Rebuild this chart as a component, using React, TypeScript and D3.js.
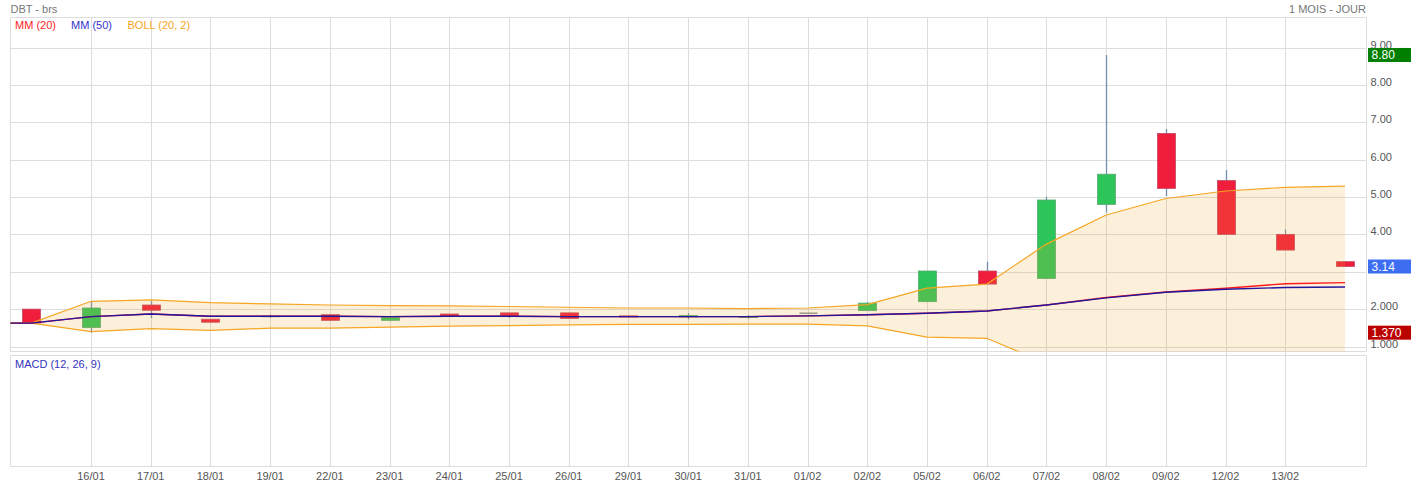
import React from "react";
import * as d3 from "d3";

// ---- data ----
const dates = ["15/01","16/01","17/01","18/01","19/01","22/01","23/01","24/01","25/01","26/01","29/01","30/01","31/01","01/02","02/02","05/02","06/02","07/02","08/02","09/02","12/02","13/02","14/02"];
const opens = [2.00,1.51,2.11,1.73,1.80,1.85,1.70,1.87,1.90,1.90,1.82,1.79,1.775,1.89,1.96,2.20,3.02,2.82,4.80,6.70,5.44,4.00,3.27];
const highs = [2.00,2.20,2.22,1.73,1.85,1.85,1.78,1.87,1.90,1.90,1.82,1.89,1.84,1.90,2.19,3.02,3.27,5.01,8.80,6.82,5.72,4.13,3.27];
const lows = [1.60,1.37,1.76,1.65,1.77,1.69,1.70,1.80,1.76,1.75,1.79,1.73,1.74,1.87,1.96,2.20,2.67,2.82,4.58,5.03,4.00,3.58,3.14];
const closes = [1.625,2.03,1.97,1.65,1.80,1.70,1.775,1.80,1.82,1.75,1.79,1.83,1.80,1.89,2.16,3.02,2.67,4.92,5.61,5.23,4.00,3.58,3.14];

// indicator series start one session before the first visible candle (index -1)
const bollUpper = [1.625,1.625,2.21,2.25,2.175,2.14,2.11,2.095,2.087,2.07,2.05,2.03,2.03,2.015,2.03,2.12,2.56,2.67,3.74,4.52,4.96,5.16,5.26,5.29];
const bollLower = [1.625,1.625,1.40,1.48,1.43,1.49,1.49,1.52,1.545,1.56,1.58,1.59,1.59,1.60,1.60,1.55,1.25,1.22,0.55,0.10,-0.05,-0.10,-0.20,-0.25];
const mm20 = [1.625,1.625,1.80,1.87,1.81,1.81,1.81,1.80,1.81,1.81,1.80,1.80,1.80,1.80,1.82,1.85,1.89,1.95,2.11,2.31,2.46,2.56,2.68,2.71];
const mm50 = [1.625,1.625,1.80,1.87,1.81,1.81,1.81,1.80,1.81,1.81,1.80,1.80,1.80,1.80,1.82,1.85,1.89,1.95,2.11,2.30,2.45,2.53,2.58,2.59];

const yTicks = [1,2,3,4,5,6,7,8,9];
const yTickLabels = ["1.000","2.000","3.00","4.00","5.00","6.00","7.00","8.00","9.00"];
const xTickLabels = ["16/01","17/01","18/01","19/01","22/01","23/01","24/01","25/01","26/01","29/01","30/01","31/01","01/02","02/02","05/02","06/02","07/02","08/02","09/02","12/02","13/02"];

const FONT = "'Liberation Sans', Arial, sans-serif";

export default function App() {
  const W = 1411, H = 486;
  const left = 10.5, right = 1366.5;
  const mainTop = 17.5, mainBottom = 351.5;
  const macdTop = 355.5, macdBottom = 466.5;

  const x = d3.scaleLinear().domain([0, dates.length - 1]).range([31.3, 1345]);
  const y = d3.scaleLinear().domain([1, 9]).range([346.5, 47.5]);
  const px = (v: number) => Math.round(v) + 0.5;
  const bodyW = 18;

  const ind = (arr: number[]) => arr.map((v, k) => [x(k - 1), y(v)] as [number, number]);
  const line = d3.line<[number, number]>();
  const area = d3
    .area<number>()
    .x((_, k) => x(k - 1))
    .y0((_, k) => y(bollLower[k]))
    .y1((_, k) => y(bollUpper[k]));

  const lastClose = closes[closes.length - 1];
  const maxHigh = d3.max(highs) as number;
  const minLow = d3.min(lows) as number;

  const badges = [
    { v: maxHigh, text: maxHigh.toFixed(2), fill: "#007f00" },
    { v: lastClose, text: lastClose.toFixed(2), fill: "#3d6ef2" },
    { v: minLow, text: minLow.toFixed(3), fill: "#bb0000" },
  ];
  // tick labels that sit under a badge are hidden (as in the reference)
  const hidden = (t: number) => badges.some((b) => Math.abs(y(b.v) - y(t)) < 6.5);

  return (
    <div style={{ position: "absolute", left: 0, top: 0 }}>
      <svg width={W} height={H} style={{ display: "block", fontFamily: FONT }}>
        <defs>
          <clipPath id="mainClip">
            <rect x={left} y={mainTop} width={right - left} height={mainBottom - mainTop} />
          </clipPath>
        </defs>
        <rect x={0} y={0} width={W} height={H} fill="#fff" />

        {/* horizontal grid */}
        {yTicks.map((t) => (
          <line key={"hg" + t} x1={left} x2={right} y1={px(y(t))} y2={px(y(t))} stroke="#dddddd" strokeWidth={1} />
        ))}
        {/* vertical grid */}
        {xTickLabels.map((lab) => {
          const i = dates.indexOf(lab);
          return (
            <line key={"vg" + lab} x1={px(x(i))} x2={px(x(i))} y1={mainTop} y2={macdBottom} stroke="#dddddd" strokeWidth={1} />
          );
        })}
        {/* panel borders */}
        <line x1={left} x2={right} y1={mainTop} y2={mainTop} stroke="#dddddd" />
        <line x1={left} x2={right} y1={mainBottom} y2={mainBottom} stroke="#dddddd" />
        <line x1={left} x2={right} y1={macdTop} y2={macdTop} stroke="#dddddd" />
        <line x1={left} x2={right} y1={macdBottom} y2={macdBottom} stroke="#dddddd" />
        <line x1={left} x2={left} y1={mainTop} y2={mainBottom} stroke="#dddddd" />
        <line x1={left} x2={left} y1={macdTop} y2={macdBottom} stroke="#dddddd" />
        <line x1={right} x2={right} y1={mainTop} y2={mainBottom} stroke="#dddddd" />
        <line x1={right} x2={right} y1={macdTop} y2={macdBottom} stroke="#dddddd" />

        <g clipPath="url(#mainClip)">
          {/* candles */}
          {dates.map((d, i) => {
            const cx = px(x(i));
            const o = opens[i], c = closes[i];
            const up = c >= o;
            const top = y(Math.max(o, c));
            const bot = y(Math.min(o, c));
            const doji = Math.abs(o - c) < 1e-9;
            return (
              <g key={"c" + d}>
                <line x1={cx} x2={cx} y1={y(highs[i])} y2={y(lows[i])} stroke="#7290ae" strokeWidth={1.3} />
                {doji ? (
                  <line x1={cx - bodyW / 2} x2={cx + bodyW / 2} y1={top} y2={top} stroke="#8a9a9a" strokeWidth={1.5} />
                ) : (
                  <rect
                    x={cx - bodyW / 2}
                    y={top}
                    width={bodyW}
                    height={Math.max(1, bot - top)}
                    fill={up ? "#2dc55a" : "#f01e3c"}
                    stroke={up ? "#5aa870" : "#c04a64"}
                    strokeWidth={0.8}
                  />
                )}
              </g>
            );
          })}
          {/* bollinger fill */}
          <path d={area(bollUpper) || ""} fill="#f5a623" fillOpacity={0.17} />
          <path d={line(ind(bollUpper)) || ""} fill="none" stroke="#f5a623" strokeWidth={1.2} />
          <path d={line(ind(bollLower)) || ""} fill="none" stroke="#f5a623" strokeWidth={1.2} />
          {/* moving averages */}
          <path d={line(ind(mm20)) || ""} fill="none" stroke="#ff1a1a" strokeWidth={1.4} />
          <path d={line(ind(mm50)) || ""} fill="none" stroke="#23169e" strokeWidth={1.4} />
        </g>

        {/* y axis labels */}
        {yTicks.map((t, k) =>
          hidden(t) ? null : (
            <text key={"yl" + t} x={1370.5} y={px(y(t)) + 0.5} fontSize={11} fill="#555">
              {yTickLabels[k]}
            </text>
          )
        )}
        {/* value badges */}
        {badges.map((b) => (
          <g key={"b" + b.text}>
            <rect x={1368} y={y(b.v) - 7} width={W - 1368} height={14} fill={b.fill} />
            <text x={1371.5} y={y(b.v) + 4.2} fontSize={12} fill="#fff">
              {b.text}
            </text>
          </g>
        ))}

        {/* x axis labels */}
        {xTickLabels.map((lab) => (
          <text key={"xl" + lab} x={x(dates.indexOf(lab))} y={480} fontSize={11} fill="#555" textAnchor="middle">
            {lab}
          </text>
        ))}

        {/* titles and legend */}
        <text x={10.5} y={13} fontSize={11} fill="#777">DBT - brs</text>
        <text x={1366} y={13} fontSize={11} fill="#777" textAnchor="end">1 MOIS - JOUR</text>
        <text x={15} y={28.5} fontSize={11} fill="#f22">MM (20)</text>
        <text x={71} y={28.5} fontSize={11} fill="#3333cc">MM (50)</text>
        <text x={127.5} y={28.5} fontSize={11} fill="#f5a623">BOLL (20, 2)</text>
        <text x={15} y={367.5} fontSize={11} fill="#3333bb">MACD (12, 26, 9)</text>
      </svg>
    </div>
  );
}
